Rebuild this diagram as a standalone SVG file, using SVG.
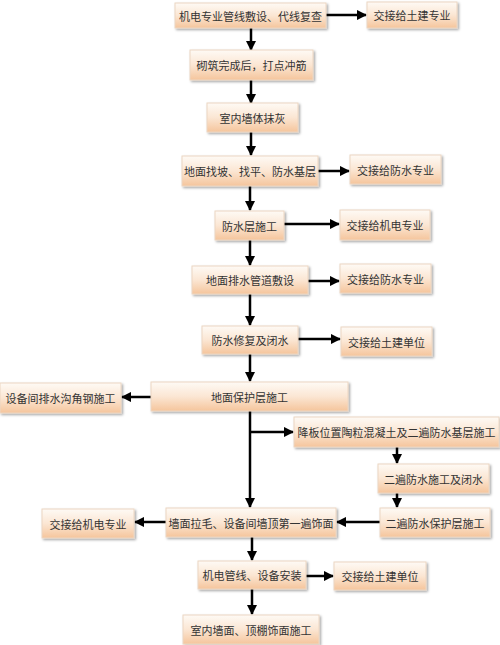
<svg xmlns="http://www.w3.org/2000/svg" width="500" height="645" viewBox="0 0 500 645">
<defs>
<linearGradient id="g" x1="0" y1="0" x2="0" y2="1">
<stop offset="0" stop-color="#fefaf5"/>
<stop offset="0.5" stop-color="#fbe6d3"/>
<stop offset="1" stop-color="#f5c59c"/>
</linearGradient>
<filter id="sh" x="-5%" y="-10%" width="115%" height="130%">
<feDropShadow dx="1.5" dy="1.5" stdDeviation="0.8" flood-color="#000" flood-opacity="0.35"/>
</filter>
<marker id="ah" viewBox="0 0 10 10" refX="9" refY="5" markerWidth="4.2" markerHeight="4.2" markerUnits="strokeWidth" orient="auto">
<path d="M0,0 L10,5 L0,10 z" fill="#000"/>
</marker>
</defs>
<style>
rect{fill:url(#g);stroke:#ecd6c2;stroke-width:1;filter:url(#sh)}
text{font-family:"Noto Sans CJK SC","Liberation Serif",serif;font-size:11px;fill:#333;text-anchor:middle;dominant-baseline:central}
.c line{stroke:#000;stroke-width:2.5;fill:none;marker-end:url(#ah)}
</style>
<rect x="0" y="0" width="500" height="645" style="fill:#fff;stroke:none;filter:none"/>
<g class="c" id="connectors">
<line x1="326" y1="15" x2="366" y2="15"/>
<line x1="251" y1="28" x2="251" y2="50"/>
<line x1="251" y1="80" x2="251" y2="103"/>
<line x1="251" y1="132" x2="251" y2="155"/>
<line x1="318" y1="171" x2="349" y2="171"/>
<line x1="250" y1="186" x2="250" y2="210"/>
<line x1="284" y1="224" x2="339" y2="224"/>
<line x1="250" y1="240" x2="250" y2="265"/>
<line x1="308" y1="281" x2="339" y2="281"/>
<line x1="250" y1="294" x2="250" y2="325"/>
<line x1="298" y1="339" x2="340" y2="339"/>
<line x1="250" y1="354" x2="250" y2="381"/>
<line x1="151" y1="397" x2="122" y2="397"/>
<line x1="250" y1="411" x2="250" y2="507"/>
<line x1="250" y1="432" x2="293" y2="432"/>
<line x1="397" y1="447" x2="397" y2="463"/>
<line x1="397" y1="493" x2="397" y2="507"/>
<line x1="380" y1="522" x2="337" y2="522"/>
<line x1="166" y1="522" x2="135" y2="522"/>
<line x1="252" y1="537" x2="252" y2="560"/>
<line x1="306" y1="576" x2="333" y2="576"/>
<line x1="252" y1="589" x2="252" y2="614"/>
</g>
<g id="n1"><rect x="175" y="3" width="151" height="25"/><text x="250.5" y="15.5">机电专业管线敷设、代线复查</text></g>
<g id="n1b"><rect x="367" y="2" width="90" height="26"/><text x="412" y="15">交接给土建专业</text></g>
<g id="n2"><rect x="190" y="50" width="123" height="30"/><text x="251.5" y="65">砌筑完成后，打点冲筋</text></g>
<g id="n3"><rect x="207" y="103" width="91" height="29"/><text x="252.5" y="117.5">室内墙体抹灰</text></g>
<g id="n4"><rect x="182" y="156" width="136" height="30"/><text x="250" y="171">地面找坡、找平、防水基层</text></g>
<g id="n4b"><rect x="350" y="155" width="91" height="29"/><text x="395.5" y="169.5">交接给防水专业</text></g>
<g id="n5"><rect x="215" y="211" width="69" height="29"/><text x="249.5" y="225.5">防水层施工</text></g>
<g id="n5b"><rect x="340" y="210" width="90" height="30"/><text x="385" y="225">交接给机电专业</text></g>
<g id="n6"><rect x="192" y="266" width="116" height="28"/><text x="250" y="280">地面排水管道敷设</text></g>
<g id="n6b"><rect x="340" y="264" width="91" height="29"/><text x="385.5" y="278.5">交接给防水专业</text></g>
<g id="n7"><rect x="202" y="326" width="96" height="28"/><text x="250" y="340">防水修复及闭水</text></g>
<g id="n7b"><rect x="341" y="327" width="91" height="29"/><text x="386.5" y="341.5">交接给土建单位</text></g>
<g id="n8"><rect x="151" y="382" width="197" height="29"/><text x="249.5" y="396.5">地面保护层施工</text></g>
<g id="n8l"><rect x="0" y="383" width="121" height="30"/><text x="60.5" y="398">设备间排水沟角钢施工</text></g>
<g id="n9r"><rect x="294" y="417" width="205" height="30"/><text x="396.5" y="432">降板位置陶粒混凝土及二遍防水基层施工</text></g>
<g id="n10r"><rect x="378" y="464" width="111" height="29"/><text x="433.5" y="478.5">二遍防水施工及闭水</text></g>
<g id="n11r"><rect x="380" y="508" width="110" height="29"/><text x="435" y="522.5">二遍防水保护层施工</text></g>
<g id="n11"><rect x="166" y="508" width="170" height="29"/><text x="251" y="522.5">墙面拉毛、设备间墙顶第一遍饰面</text></g>
<g id="n11l"><rect x="42" y="509" width="92" height="29"/><text x="88" y="523.5">交接给机电专业</text></g>
<g id="n12"><rect x="198" y="561" width="108" height="28"/><text x="252" y="575">机电管线、设备安装</text></g>
<g id="n12b"><rect x="334" y="562" width="92" height="28"/><text x="380" y="576">交接给土建单位</text></g>
<g id="n13"><rect x="183" y="615" width="136" height="29"/><text x="251" y="629.5">室内墙面、顶棚饰面施工</text></g>
</svg>
